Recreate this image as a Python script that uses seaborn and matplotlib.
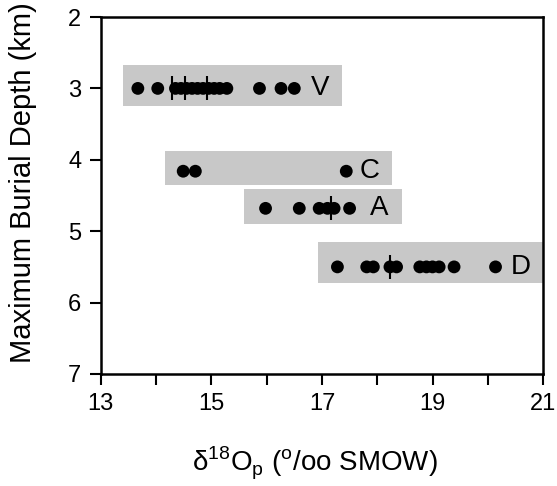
import numpy as np
import pandas as pd
import seaborn as sns
import matplotlib.pyplot as plt

# samples: delta 18O of phosphate vs max burial depth
v_x = [13.67, 14.03, 14.35, 14.45, 14.55, 14.65, 14.75, 14.85, 14.95, 15.05, 15.15, 15.28, 15.87, 16.26, 16.5]
c_x = [14.49, 14.71, 17.44]
a_x = [15.98, 16.59, 16.95, 17.1, 17.22, 17.5]
d_x = [17.28, 17.81, 17.93, 18.23, 18.35, 18.77, 18.89, 19.0, 19.12, 19.39, 20.14]

groups = ['V', 'C', 'A', 'D']
depths = [3.0, 4.16, 4.68, 5.5]

# means (vertical ticks)
mean_x = [14.29, 14.53, 14.92, 17.16, 18.23]
mean_y = [3.0, 3.0, 3.0, 4.68, 5.5]

# gray ranges behind each group
box_x0 = [13.41, 14.16, 15.59, 16.92]
box_x1 = [17.37, 18.27, 18.44, 21.0]
box_y0 = [2.67, 3.88, 4.41, 5.15]
box_y1 = [3.25, 4.35, 4.90, 5.72]

df = pd.DataFrame({
    'd18O': v_x + c_x + a_x + d_x,
    'depth': [depths[0]] * len(v_x) + [depths[1]] * len(c_x)
             + [depths[2]] * len(a_x) + [depths[3]] * len(d_x),
})

sns.set_style('ticks')
plt.rcParams['font.family'] = ['Liberation Sans', 'DejaVu Sans']
plt.rcParams['mathtext.fontset'] = 'custom'
plt.rcParams['mathtext.rm'] = 'Liberation Sans'
for k in ['text.color', 'axes.labelcolor', 'xtick.color', 'ytick.color', 'axes.edgecolor']:
    plt.rcParams[k] = 'black'

fig = plt.figure(figsize=(5.57, 4.86), dpi=100)
ax = fig.add_axes([0.181, 0.2305, 0.794, 0.7345])

for i, g in enumerate(groups):
    ax.fill_between([box_x0[i], box_x1[i]], box_y0[i], box_y1[i],
                    color='#c8c8c8', lw=0, zorder=1)
    ax.text(box_x1[i] - 0.4, depths[i], g, ha='center', va='center',
            fontsize=20, zorder=4)

sns.scatterplot(data=df, x='d18O', y='depth', color='black', s=85,
                edgecolor='none', ax=ax, zorder=3)
ax.scatter(mean_x, mean_y, marker='|', s=290, color='black', lw=1.5, zorder=3)

ax.set_xlim(13, 21)
ax.set_ylim(7, 2)
ax.set_xticks(np.arange(13, 22, 1))
ax.set_xticklabels([str(t) if t % 2 else '' for t in range(13, 22)])
ax.set_yticks(np.arange(2, 8, 1))
ax.tick_params(labelsize=17, length=8, width=1.5, direction='out', pad=6)
for s in ax.spines.values():
    s.set_linewidth(1.8)

ax.set_xlabel('δ$^{18}$O$_{\\mathrm{p}}$ ($^{\\mathrm{o}}$/oo SMOW)', fontsize=20)
ax.xaxis.set_label_coords(0.485, -0.2)
ax.set_ylabel('Maximum Burial Depth (km)', fontsize=21)
ax.yaxis.set_label_coords(-0.145, 0.535)

fig.savefig('out.png', dpi=100)
